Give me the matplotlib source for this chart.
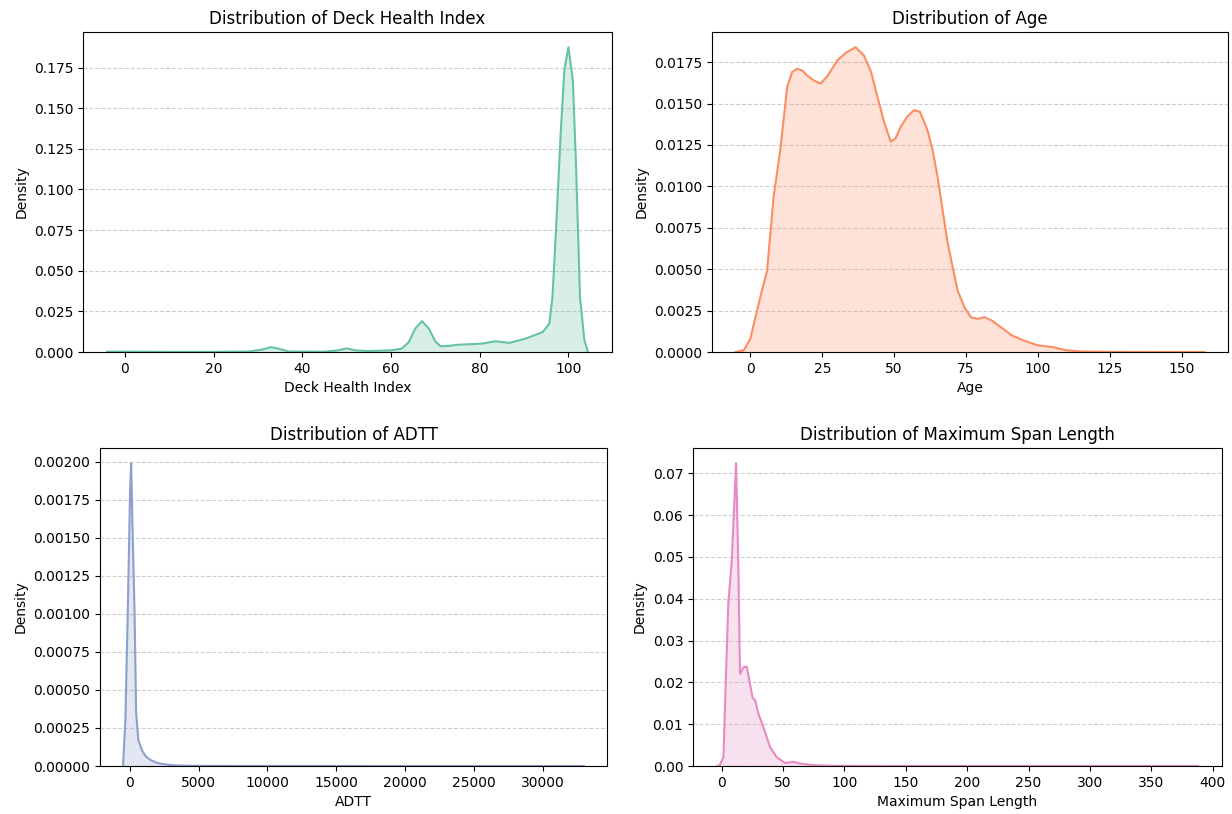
import matplotlib.pyplot as plt
from matplotlib.ticker import MultipleLocator

# colours (Set2)
GREEN = "#66c2a5"
ORANGE = "#fc8d62"
BLUE = "#8da0cb"
PINK = "#e78ac3"

# density curves
deck_x = [-4, 0, 10, 20, 28, 31, 33, 35, 37, 45, 48, 50, 52, 55, 60, 62.4, 64, 65.5,
          67, 68.5, 70, 71.2, 73, 75.3, 78, 80.6, 83.6, 86.7, 90.4, 94.2, 95.7, 96.4,
          97.2, 98.3, 99.1, 100, 101, 101.7, 102.6, 103.6, 104.4]
deck_y = [0.0002, 0.0002, 0.0001, 0.0001, 0.0003, 0.0015, 0.003, 0.0018, 0.0003,
          0.0002, 0.001, 0.0022, 0.001, 0.0006, 0.001, 0.002, 0.006, 0.0145, 0.019,
          0.0145, 0.0065, 0.0035, 0.0038, 0.0045, 0.0048, 0.0052, 0.0066, 0.0056,
          0.0083, 0.0123, 0.0175, 0.034, 0.075, 0.137, 0.174, 0.1875, 0.167, 0.116,
          0.034, 0.0072, 0.0]

age_x = [-5.2, -2.3, 0, 2.3, 4, 5.8, 8.1, 10.4, 12.8, 14.5, 16.3, 18, 19.7, 22, 24.4,
         27, 30.2, 33.5, 36.6, 39.5, 42, 44.2, 46.5, 48.8, 50.5, 52.3, 54.5, 56.9,
         59, 61.6, 63.5, 65.1, 68.6, 72.1, 74.5, 76.7, 79, 81.4, 84, 87.1, 91, 95,
         100, 105, 110, 115, 125, 140, 158]
age_y = [0.0, 0.0001, 0.0008, 0.0025, 0.0037, 0.0049, 0.0094, 0.0122, 0.0160,
         0.0169, 0.0171, 0.0170, 0.0167, 0.0164, 0.0162, 0.0167, 0.0176, 0.0181,
         0.0184, 0.0179, 0.0169, 0.0154, 0.0139, 0.0127, 0.0129, 0.0136, 0.0142,
         0.0146, 0.0145, 0.0134, 0.0121, 0.0106, 0.0066, 0.0037, 0.0027, 0.0021,
         0.0020, 0.0021, 0.0019, 0.0015, 0.0010, 0.0007, 0.0004, 0.0003, 0.0001,
         0.00003, 0.00001, 0.0, 0.0]

adtt_x = [-490, -320, -150, 20, 100, 190, 350, 460, 620, 900, 1150, 1500, 2000,
          2600, 3200, 4000, 6000, 10000, 20000, 33000]
adtt_y = [0.0, 0.0003, 0.0010, 0.0018, 0.00199, 0.0016, 0.0010, 0.00035, 0.00017,
          0.0001, 0.000065, 0.00004, 0.00002, 0.00001, 0.000004, 0.000002,
          0.000001, 0.0000005, 0.0, 0.0]

span_x = [-3.8, -1.9, 1.4, 3.5, 5.4, 8.2, 11.7, 13.6, 14.9, 17.7, 20.4, 22.5, 25.3,
          27.2, 29.9, 34, 39.4, 44.8, 51.6, 58.4, 63.8, 74.7, 90, 150, 250, 388]
span_y = [0.0, 0.0, 0.0021, 0.022, 0.039, 0.049, 0.0724, 0.047, 0.022, 0.0236,
          0.0238, 0.0204, 0.0162, 0.0158, 0.0125, 0.0093, 0.0045, 0.0021, 0.0007,
          0.001, 0.0006, 0.0002, 0.00005, 0.0, 0.0, 0.0]

panels = [
    ("Deck Health Index", deck_x, deck_y, GREEN, 20),
    ("Age", age_x, age_y, ORANGE, 25),
    ("ADTT", adtt_x, adtt_y, BLUE, 5000),
    ("Maximum Span Length", span_x, span_y, PINK, 50),
]

W, H = 1232, 814
# axes boxes in pixels: left, right, top, bottom
boxes = [(83, 612, 32, 352), (712, 1228, 32, 352),
         (100, 607, 448, 766), (693, 1222, 448, 766)]

fig = plt.figure(figsize=(W / 100, H / 100), dpi=100)

for (name, x, y, c, step), (l, r, t, b) in zip(panels, boxes):
    ax = fig.add_axes([l / W, 1 - b / H, (r - l) / W, (b - t) / H])
    ax.fill_between(x, y, color=c, alpha=0.25, linewidth=0)
    ax.plot(x, y, color=c, linewidth=1.5)
    ax.set_ylim(0, max(y) * 1.05)
    ax.xaxis.set_major_locator(MultipleLocator(step))
    ax.set_title(f"Distribution of {name}", fontsize=12)
    ax.set_xlabel(name, fontsize=10)
    ax.set_ylabel("Density", fontsize=10)
    ax.tick_params(labelsize=10)
    ax.grid(axis="y", linestyle="--", alpha=0.6)
    ax.set_axisbelow(True)

fig.savefig("out.png", dpi=100)
